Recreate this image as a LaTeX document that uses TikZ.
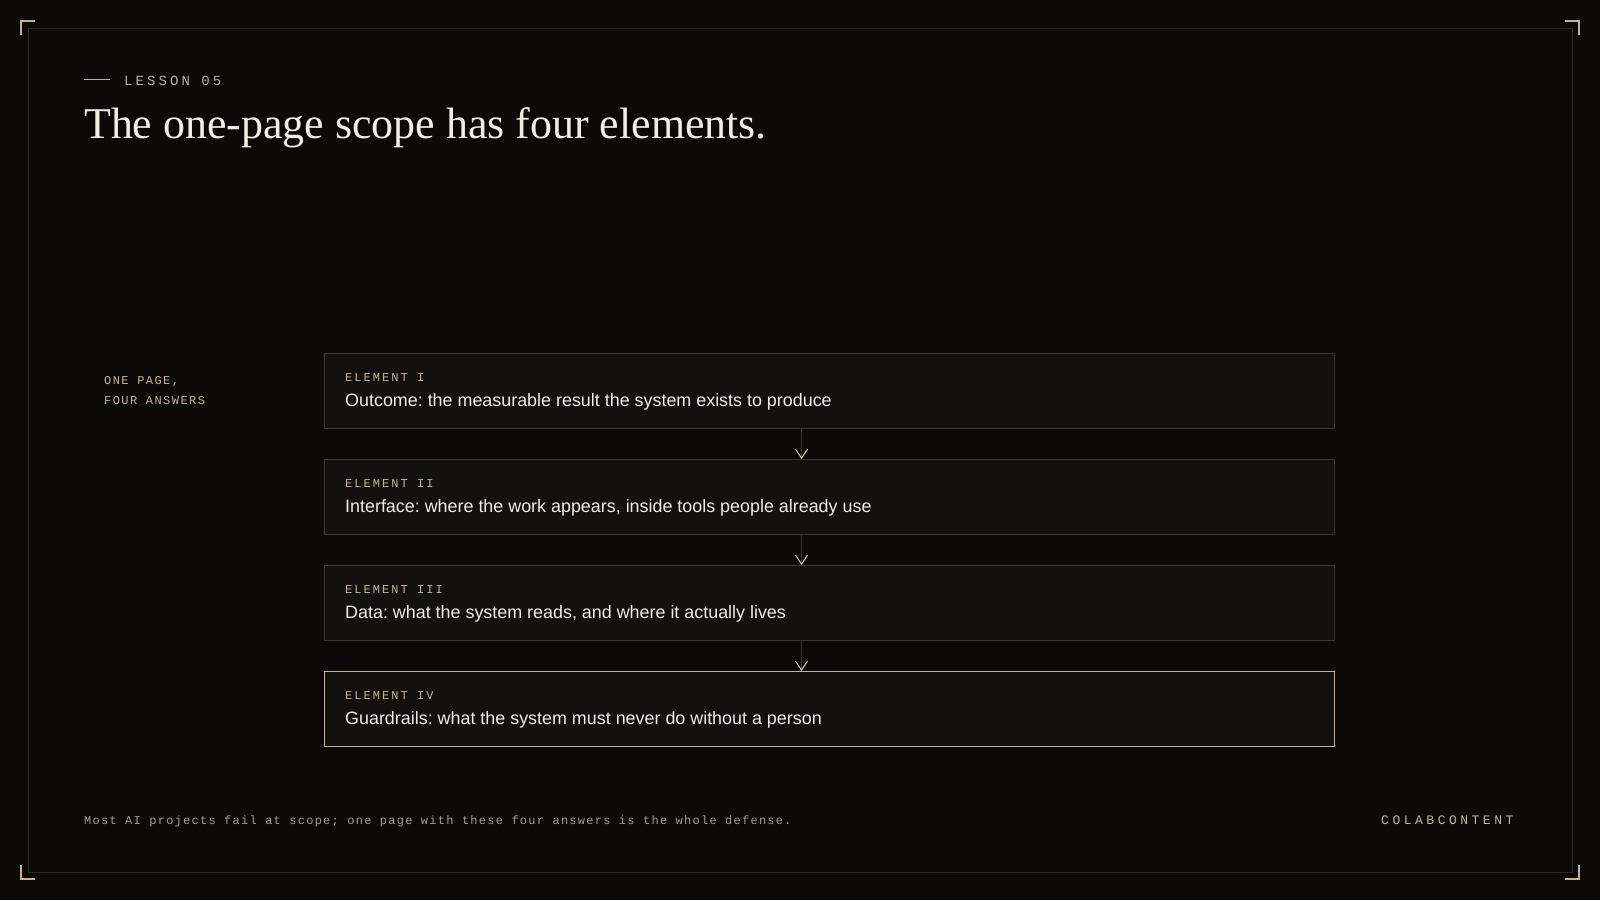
\documentclass[tikz,border=0pt]{standalone}
\usepackage{fontspec}
\setmainfont{Liberation Serif}
\setsansfont{Liberation Sans}
\setmonofont{Liberation Mono}
\newfontfamily\kickerfont[LetterSpace=22]{Liberation Mono}
\newfontfamily\tagfont[LetterSpace=17]{Liberation Mono}
\newfontfamily\sidefont[LetterSpace=12]{Liberation Mono}
\newfontfamily\notefont[LetterSpace=10.5]{Liberation Mono}
\newfontfamily\brandfont[LetterSpace=27]{Liberation Mono}
\usetikzlibrary{positioning,arrows.meta}
\definecolor{bgdark}{HTML}{0B0A09}
\definecolor{framegrey}{HTML}{2A2825}
\definecolor{boxfill}{HTML}{121110}
\definecolor{boxline}{HTML}{3A3835}
\definecolor{tanline}{HTML}{C8B28A}
\definecolor{tantext}{HTML}{C9B48F}
\definecolor{arrowtip}{HTML}{D8CAB0}
\definecolor{ink}{HTML}{F1EDE5}
\definecolor{muted}{HTML}{A29D94}
\tikzstyle{element} = [rectangle,
                      minimum width=1010pt,
                      minimum height=75pt,
                      inner sep=0pt,
                      draw=boxline,
                      fill=boxfill,
                      line width=1pt]
\tikzstyle{keyelement} = [element, draw=tanline]
\tikzstyle{tag} = [inner sep=0pt, text=tantext,
                  font=\tagfont\fontsize{12pt}{14pt}\selectfont]
\tikzstyle{answer} = [inner sep=0pt, text=ink,
                     font=\sffamily\fontsize{17.9pt}{21pt}\selectfont]
\tikzstyle{flow} = [draw=boxline, line width=1pt,
                   -{Straight Barb[length=9pt,width=12pt,color=arrowtip]}]
\tikzstyle{slide} = [x=1pt, y=-1pt,
                    node distance=30pt]

\begin{document}
\frenchspacing
\begin{tikzpicture}[slide]
    \fill[bgdark] (0,0) rectangle (1600,900);
    \useasboundingbox (0,0) rectangle (1600,900);
    \draw[framegrey, line width=1pt] (28,28) rectangle (1572,872);
    % corner marks
    \draw[tanline, line width=1.3pt] (21,35) -- (21,21) -- (35,21)
      (1565,21) -- (1579,21) -- (1579,35)
      (21,865) -- (21,879) -- (35,879)
      (1565,879) -- (1579,879) -- (1579,865);

    % heading
    \draw[tanline, line width=1pt] (84,79) -- (110,79);
    \node (kicker) [inner sep=0pt, anchor=base west, text=muted!80!white,
      font=\kickerfont\fontsize{14pt}{16pt}\selectfont] at (124,85) {LESSON 05};
    \node (title) [inner sep=0pt, anchor=base west, text=ink,
      font=\fontsize{43.9pt}{50pt}\selectfont] at (84,138)
      {The one-page scope has four elements.};
    \node (side) [inner sep=0pt, anchor=base west, align=left, text=tantext,
      font=\sidefont\fontsize{12pt}{20pt}\selectfont] at (104,404)
      {ONE PAGE,\\FOUR ANSWERS};

    % the four elements
    \node (1) [element, anchor=north west] at (324,353) {};
    \node (2) [below =of 1] [element] {};
    \node (3) [below =of 2] [element] {};
    \node (4) [below =of 3] [keyelement] {};

    \node (1a) [tag, below right=28pt and 21pt of 1.north west, anchor=base west] {ELEMENT I};
    \node (1b) [answer, below right=53.5pt and 21pt of 1.north west, anchor=base west]
      {Outcome: the measurable result the system exists to produce};
    \node (2a) [tag, below right=28pt and 21pt of 2.north west, anchor=base west] {ELEMENT II};
    \node (2b) [answer, below right=53.5pt and 21pt of 2.north west, anchor=base west]
      {Interface: where the work appears, inside tools people already use};
    \node (3a) [tag, below right=28pt and 21pt of 3.north west, anchor=base west] {ELEMENT III};
    \node (3b) [answer, below right=53.5pt and 21pt of 3.north west, anchor=base west]
      {Data: what the system reads, and where it actually lives};
    \node (4a) [tag, below right=28pt and 21pt of 4.north west, anchor=base west] {ELEMENT IV};
    \node (4b) [answer, below right=53.5pt and 21pt of 4.north west, anchor=base west]
      {Guardrails: what the system must never do without a person};

    \draw[flow] ([xshift=-28pt]1.south) -- ([xshift=-28pt]2.north);
    \draw[flow] ([xshift=-28pt]2.south) -- ([xshift=-28pt]3.north);
    \draw[flow] ([xshift=-28pt]3.south) -- ([xshift=-28pt]4.north);

    % footer
    \node (note) [inner sep=0pt, anchor=base west, text=muted,
      font=\notefont\fontsize{12pt}{14pt}\selectfont] at (84,824)
      {Most AI projects fail at scope; one page with these four answers is the whole defense.};
    \node (brand) [inner sep=0pt, anchor=base west, text=tantext,
      font=\brandfont\fontsize{13pt}{15pt}\selectfont] at (1381,824) {COLABCONTENT};
  \end{tikzpicture}
\end{document}
